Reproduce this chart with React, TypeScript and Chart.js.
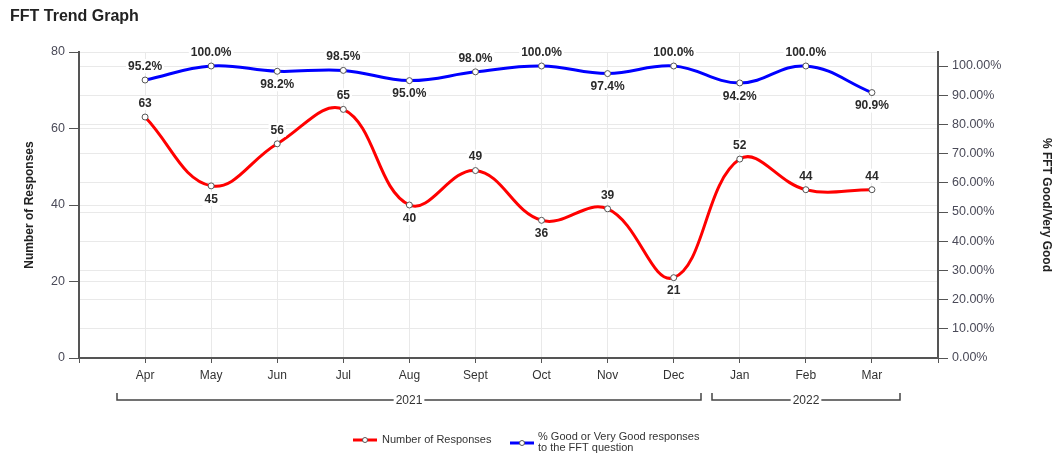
import React, { useEffect, useRef } from "react";
import { Chart, registerables } from "chart.js";

Chart.register(...registerables);

const months = ["Apr", "May", "Jun", "Jul", "Aug", "Sept", "Oct", "Nov", "Dec", "Jan", "Feb", "Mar"];
const responses = [63, 45, 56, 65, 40, 49, 36, 39, 21, 52, 44, 44];
const goodPct = [95.2, 100.0, 98.2, 98.5, 95.0, 98.0, 100.0, 97.4, 100.0, 94.2, 100.0, 90.9];
const pctTicks = [0, 10, 20, 30, 40, 50, 60, 70, 80, 90, 100];
const years = ["2021", "2022"];
const yearStart = [0, 9];
const yearEnd = [8, 11];

// label placement (style): 1 = above, -1 = below
const respLabelSide = [1, -1, 1, 1, -1, 1, -1, 1, -1, 1, 1, 1];
const pctLabelSide = [1, 1, -1, 1, -1, 1, 1, -1, 1, -1, 1, -1];

const FONT = "'Liberation Sans', Arial, sans-serif";

const overlayPlugin = {
  id: "overlay",
  afterDatasetsDraw(chart: any) {
    const ctx = chart.ctx;
    ctx.save();
    ctx.font = `bold 12px ${FONT}`;
    ctx.textAlign = "center";
    ctx.textBaseline = "middle";
    const drawLabels = (dsIndex: number, texts: string[], sides: number[]) => {
      const meta = chart.getDatasetMeta(dsIndex);
      meta.data.forEach((pt: any, i: number) => {
        const t = texts[i];
        const y = pt.y + (sides[i] > 0 ? -14 : 13);
        const w = ctx.measureText(t).width;
        ctx.fillStyle = "#ffffff";
        ctx.fillRect(pt.x - w / 2 - 2, y - 7, w + 4, 14);
        ctx.fillStyle = "#2a2a2a";
        ctx.fillText(t, pt.x, y + 0.5);
      });
    };
    drawLabels(0, responses.map((v) => String(v)), respLabelSide);
    drawLabels(1, goodPct.map((v) => v.toFixed(1) + "%"), pctLabelSide);
    ctx.restore();
  },
  afterDraw(chart: any) {
    const ctx = chart.ctx;
    const xs = chart.scales.x;
    ctx.save();
    // title
    ctx.fillStyle = "#222";
    ctx.font = `bold 16px ${FONT}`;
    ctx.textAlign = "left";
    ctx.textBaseline = "alphabetic";
    ctx.fillText("FFT Trend Graph", 10, 21);

    // axis titles
    ctx.font = `bold 12px ${FONT}`;
    ctx.textAlign = "center";
    ctx.textBaseline = "middle";
    ctx.save();
    ctx.translate(30, 205);
    ctx.rotate(-Math.PI / 2);
    ctx.fillText("Number of Responses", 0, 0);
    ctx.restore();
    ctx.save();
    ctx.translate(1046, 205);
    ctx.rotate(Math.PI / 2);
    ctx.fillText("% FFT Good/Very Good", 0, 0);
    ctx.restore();

    // year brackets
    const by = 400;
    ctx.strokeStyle = "#444";
    ctx.lineWidth = 1.5;
    ctx.font = `12px ${FONT}`;
    years.forEach((yr, i) => {
      const x1 = Math.round(xs.getPixelForValue(yearStart[i] - 0.42));
      const x2 = Math.round(xs.getPixelForValue(yearEnd[i] + 0.42));
      const mid = (x1 + x2) / 2;
      const w = ctx.measureText(yr).width;
      ctx.beginPath();
      ctx.moveTo(x1, by - 7);
      ctx.lineTo(x1, by);
      ctx.lineTo(mid - w / 2 - 2, by);
      ctx.moveTo(mid + w / 2 + 2, by);
      ctx.lineTo(x2, by);
      ctx.lineTo(x2, by - 7);
      ctx.stroke();
      ctx.fillStyle = "#333";
      ctx.fillText(yr, mid, by + 0.5);
    });

    // legend
    const drawKey = (x: number, y: number, color: string) => {
      ctx.strokeStyle = color;
      ctx.lineWidth = 3;
      ctx.beginPath();
      ctx.moveTo(x, y);
      ctx.lineTo(x + 24, y);
      ctx.stroke();
      ctx.fillStyle = "#fff";
      ctx.strokeStyle = "#555";
      ctx.lineWidth = 1;
      ctx.beginPath();
      ctx.arc(x + 12, y, 2.5, 0, Math.PI * 2);
      ctx.fill();
      ctx.stroke();
    };
    ctx.font = `11px ${FONT}`;
    ctx.textAlign = "left";
    ctx.textBaseline = "middle";
    drawKey(353, 440, "#ff0000");
    ctx.fillStyle = "#333";
    ctx.fillText("Number of Responses", 382, 440);
    drawKey(510, 443, "#0000ff");
    ctx.fillStyle = "#333";
    ctx.fillText("% Good or Very Good responses", 538, 437);
    ctx.fillText("to the FFT question", 538, 448);
    ctx.restore();
  },
};

export default function App() {
  const ref = useRef<HTMLCanvasElement | null>(null);
  useEffect(() => {
    if (!ref.current) return;
    const chart = new Chart(ref.current, {
      type: "line",
      data: {
        datasets: [
          {
            label: "Number of Responses",
            data: responses.map((v, i) => ({ x: i, y: v })),
            yAxisID: "y",
            borderColor: "#ff0000",
            borderWidth: 3,
            tension: 0.4,
            pointRadius: 3,
            pointBackgroundColor: "#ffffff",
            pointBorderColor: "#555555",
            pointBorderWidth: 1,
          },
          {
            label: "% Good or Very Good responses to the FFT question",
            data: goodPct.map((v, i) => ({ x: i, y: v })),
            yAxisID: "y1",
            borderColor: "#0000ff",
            borderWidth: 3,
            tension: 0.4,
            pointRadius: 3,
            pointBackgroundColor: "#ffffff",
            pointBorderColor: "#555555",
            pointBorderWidth: 1,
          },
        ],
      },
      options: {
        responsive: false,
        animation: false,
        layout: { padding: { top: 52, left: 0, right: 0, bottom: 0 } },
        plugins: {
          legend: { display: false },
          title: { display: false },
          tooltip: { enabled: false },
        },
        scales: {
          x: {
            type: "linear",
            min: -1,
            max: 12,
            afterFit: (s: any) => {
              s.height = 98;
            },
            ticks: {
              stepSize: 1,
              autoSkip: false,
              maxRotation: 0,
              padding: 5,
              color: "#333",
              font: { family: FONT, size: 12 },
              callback: (v: any) => months[v as number] ?? "",
            },
            grid: {
              color: (c: any) => (c.tick && c.tick.value >= 0 && c.tick.value <= 11 ? "#e9e9e9" : "rgba(0,0,0,0)"),
              tickColor: "#555",
              tickLength: 5,
            },
            border: { color: "#555", width: 2 },
          },
          y: {
            position: "left",
            min: 0,
            max: 80,
            afterFit: (s: any) => {
              s.width = 79;
            },
            ticks: {
              stepSize: 20,
              autoSkip: false,
              padding: 4,
              color: "#4a4a58",
              font: { family: FONT, size: 12.5 },
            },
            grid: { color: "#e9e9e9", tickColor: "#555", tickLength: 10 },
            border: { color: "#555", width: 2 },
          },
          y1: {
            position: "right",
            min: 0,
            max: 104.8,
            afterFit: (s: any) => {
              s.width = 116;
            },
            afterBuildTicks: (s: any) => {
              s.ticks = pctTicks.map((v) => ({ value: v }));
            },
            ticks: {
              stepSize: 10,
              autoSkip: false,
              padding: 4,
              color: "#4a4a58",
              font: { family: FONT, size: 12.5 },
              callback: (v: any) => Number(v).toFixed(2) + "%",
            },
            grid: { color: "#e9e9e9", tickColor: "#555", tickLength: 10 },
            border: { color: "#555", width: 2 },
          },
        },
      },
      plugins: [overlayPlugin],
    } as any);
    return () => chart.destroy();
  }, []);
  return (
    <div style={{ position: "absolute", left: 0, top: 0, width: 1054, height: 456, background: "#fff" }}>
      <canvas ref={ref} width={1054} height={456} />
    </div>
  );
}
